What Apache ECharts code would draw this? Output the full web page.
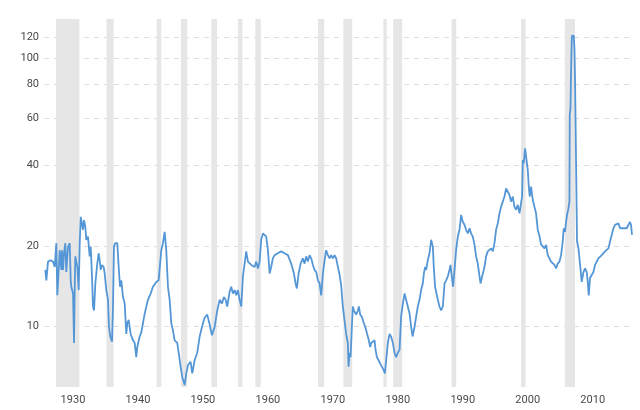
<!DOCTYPE html>
<html>
<head>
<meta charset="utf-8">
<script src="https://cdn.jsdelivr.net/npm/echarts@6/dist/echarts.min.js"></script>
<style>
	html, body { margin: 0; padding: 0; background: #fff; }
	#chart { width: 640px; height: 410px; }
</style>
</head>
<body>
<div id="chart"></div>
<script>
(function () {

	// decimal years of the sampled points
	var years = [
		1927.95, 1928.11, 1928.37, 1928.78, 1929.14, 1929.40, 1929.65, 1929.80,
		1930.17, 1930.42, 1930.52, 1930.68, 1930.83, 1931.03, 1931.18, 1931.45, 1931.71, 1931.86, 1931.95,
		1932.22, 1932.37, 1932.48, 1932.57, 1932.88, 1933.09, 1933.25, 1933.40, 1933.60, 1933.75, 1933.91,
		1934.11, 1934.26, 1934.52, 1934.78, 1934.94, 1935.14, 1935.29, 1935.45, 1935.65, 1935.95,
		1936.17, 1936.32, 1936.48, 1936.68, 1936.94, 1937.09, 1937.34, 1937.60, 1937.75, 1937.95,
		1938.22, 1938.37, 1938.52, 1938.72, 1939.03, 1939.25, 1939.45, 1939.65, 1939.91,
		1940.17, 1940.42, 1940.57, 1940.78, 1941.09, 1941.45, 1941.71, 1941.95,
		1942.11, 1942.48, 1942.72, 1943.25, 1943.75, 1944.17, 1944.52, 1945.03, 1945.40, 1945.80,
		1946.06, 1946.32, 1946.57, 1946.83, 1947.09, 1947.34, 1947.60, 1947.86,
		1948.26, 1948.48, 1948.78, 1949.03, 1949.40, 1949.65, 1949.91,
		1950.32, 1950.57, 1950.94, 1951.34, 1951.71, 1951.95, 1952.22, 1952.48, 1952.88,
		1953.25, 1953.60, 1954.02, 1954.42, 1954.78, 1955.14, 1955.45, 1955.71, 1955.95,
		1956.32, 1956.57, 1956.83, 1957.09, 1957.34, 1957.60, 1957.86, 1958.11, 1958.37, 1958.63, 1958.88,
		1959.14, 1959.40, 1959.65, 1959.91, 1960.17, 1960.42, 1960.68, 1960.94,
		1961.18, 1961.45, 1961.71, 1961.95, 1962.22, 1962.48, 1962.72, 1962.98, 1963.25, 1963.75,
		1964.26, 1964.78, 1965.29, 1965.80, 1966.22, 1966.48, 1966.68, 1966.94, 1967.25, 1967.60, 1967.86,
		1968.11, 1968.37, 1968.63, 1968.88, 1969.14, 1969.40, 1969.65, 1969.91,
		1970.17, 1970.42, 1970.68, 1970.94, 1971.18, 1971.45, 1971.71, 1971.95,
		1972.22, 1972.48, 1972.72, 1972.99, 1973.25, 1973.49, 1973.75,
		1974.26, 1974.52, 1974.63, 1974.79, 1974.94, 1975.14, 1975.29, 1975.45, 1975.80,
		1976.06, 1976.22, 1976.42, 1976.68, 1976.99, 1977.25, 1977.49, 1977.75, 1977.95,
		1978.11, 1978.37, 1978.63, 1978.79, 1978.99, 1979.25, 1979.49, 1979.75,
		1980.02, 1980.22, 1980.42, 1980.68, 1980.94, 1981.18, 1981.45, 1981.71, 1981.95,
		1982.22, 1982.48, 1982.72, 1982.99, 1983.25, 1983.49, 1983.75,
		1984.02, 1984.26, 1984.48, 1984.79, 1985.03, 1985.29, 1985.55, 1985.80,
		1986.06, 1986.22, 1986.42, 1986.57, 1986.83, 1987.09, 1987.34, 1987.60, 1987.75, 1987.95,
		1988.17, 1988.37, 1988.63, 1988.88, 1989.14, 1989.40, 1989.65, 1989.91,
		1990.17, 1990.32, 1990.52, 1990.72, 1990.94, 1991.18, 1991.45, 1991.71, 1991.95,
		1992.22, 1992.48, 1992.72, 1992.99, 1993.25, 1993.49, 1993.75,
		1994.02, 1994.26, 1994.52, 1994.79, 1994.94, 1995.19, 1995.55, 1995.80,
		1996.06, 1996.32, 1996.57, 1996.83, 1997.09, 1997.34, 1997.60, 1997.86,
		1998.11, 1998.37, 1998.63, 1998.88, 1999.14, 1999.40, 1999.65, 1999.91,
		2000.17, 2000.42, 2000.68, 2000.94, 2001.18, 2001.34, 2001.45, 2001.60, 2001.80,
		2002.06, 2002.22, 2002.37, 2002.52, 2002.72, 2002.99, 2003.25, 2003.49, 2003.75,
		2004.02, 2004.26, 2004.52, 2004.79, 2005.03, 2005.29, 2005.55, 2005.80,
		2006.06, 2006.32, 2006.57, 2006.83, 2007.09, 2007.34, 2007.60, 2007.75, 2007.95,
		2008.11, 2008.26, 2008.48, 2008.63, 2008.68, 2008.79, 2008.88, 2008.99,
		2009.09, 2009.19, 2009.29, 2009.40, 2009.49, 2009.71, 2009.80,
		2010.02, 2010.17, 2010.32, 2010.52, 2010.79, 2011.03, 2011.29, 2011.45, 2011.60, 2011.80,
		2012.06, 2012.32, 2012.57, 2012.83, 2013.09, 2013.34, 2013.60, 2013.86,
		2014.11, 2014.37, 2014.63, 2014.88, 2015.14, 2015.40, 2015.65, 2015.91,
		2016.17, 2016.42, 2016.68, 2016.94, 2017.18, 2017.45, 2017.71, 2017.95, 2018.11, 2018.26
	];

	// P/E ratio at each sampled point
	var pe = [
		16.3, 14.9, 17.5, 17.7, 17.5, 16.7, 20.5, 13.1,
		19.3, 16.3, 19.3, 16.3, 18.8, 20.5, 16.0, 19.9, 20.5, 14.9, 14.1,
		13.3, 8.7, 14.1, 18.3, 16.7, 13.7, 20.5, 25.7, 25.7, 23.0, 25.0,
		23.6, 21.1, 21.7, 18.3, 19.9, 15.4, 11.9, 11.5, 14.5, 17.2,
		18.8, 17.7, 16.3, 17.0, 16.7, 15.8, 13.7, 12.6, 10.0, 9.2,
		8.8, 11.9, 19.9, 20.5, 20.5, 16.7, 14.1, 14.9, 12.9,
		12.2, 9.4, 10.3, 10.6, 9.4, 8.9, 8.7, 7.7,
		8.4, 9.2, 9.5, 11.2, 12.6, 13.3, 14.1, 14.7, 14.9, 19.3,
		20.5, 22.6, 19.3, 14.1, 12.6, 10.3, 9.7, 8.9,
		8.7, 8.0, 7.1, 6.5, 6.06, 6.7, 7.2,
		7.4, 6.7, 7.5, 8.0, 9.2, 9.7, 10.3, 10.8, 11.1,
		10.2, 9.3, 10.0, 11.5, 12.6, 12.2, 12.9, 12.6, 11.9,
		13.5, 14.1, 13.3, 13.7, 13.1, 13.7, 12.6, 11.9, 15.4, 17.2, 19.1,
		17.5, 17.7, 17.0, 17.2, 16.7, 17.5, 16.5, 17.5,
		21.1, 22.3, 22.3, 21.7, 19.3, 15.8, 16.7, 18.0, 18.5, 18.8,
		19.1, 18.8, 18.5, 17.2, 15.8, 14.5, 13.9, 15.8, 17.2, 18.0, 17.2,
		18.3, 17.5, 18.5, 18.0, 17.0, 16.3, 16.0, 14.9,
		14.5, 13.1, 15.8, 17.7, 19.3, 18.5, 18.0, 18.5,
		18.0, 18.5, 18.0, 17.7, 15.6, 14.3, 11.9,
		9.4, 8.7, 7.1, 8.0, 7.7, 10.0, 11.9, 11.5, 11.1,
		11.5, 11.9, 11.1, 10.9, 10.3, 9.9, 9.4, 8.9, 8.4,
		8.7, 8.8, 8.9, 8.2, 7.7, 7.5, 7.3, 7.4,
		6.9, 6.7, 7.5, 8.7, 9.4, 9.2, 8.7, 8.0, 7.7,
		8.0, 8.2, 10.9, 12.2, 13.3, 12.6, 11.9,
		11.2, 10.0, 9.2, 10.0, 10.9, 11.9, 12.6, 13.7,
		14.5, 15.8, 16.7, 16.3, 17.7, 18.8, 21.1, 19.9, 16.7, 14.1,
		13.3, 12.6, 11.9, 11.5, 11.9, 14.5, 14.9, 15.4,
		16.3, 17.0, 15.4, 14.1, 16.3, 19.3, 21.7, 23.0, 26.1,
		24.6, 24.0, 23.0, 22.3, 23.3, 22.3, 21.7,
		20.2, 18.3, 17.2, 15.4, 14.5, 15.4, 16.7, 18.3,
		19.1, 18.8, 19.6, 19.1, 20.5, 23.0, 24.3, 26.5,
		28.0, 29.3, 30.6, 32.8, 33.3, 31.0, 29.3, 30.6,
		28.0, 27.3, 28.5, 26.5, 26.1, 30.6, 41.9, 40.7, 46.3,
		45.6, 38.4, 33.3, 30.6, 33.3, 29.7, 28.0, 26.5, 23.0,
		21.8, 20.3, 20.5, 19.6, 20.2, 18.5, 18.0, 17.5,
		17.5, 17.0, 16.5, 17.2, 17.5, 18.5, 20.8, 23.3, 22.6,
		24.6, 26.1, 27.7, 29.3, 61.7, 65.3, 89.4, 119.2,
		122.6, 119.2, 122.6, 109.3, 84.5, 84.5, 20.8,
		19.6, 18.0, 16.5, 14.7, 16.0, 16.5, 16.0, 14.7, 13.1, 15.2,
		15.6, 16.0, 17.0, 17.5, 18.0, 17.7, 18.5, 18.5,
		19.1, 19.1, 19.6, 20.8, 22.0, 23.3, 24.0, 24.0,
		24.3, 23.3, 23.0, 23.3, 23.6, 23.3, 24.0, 24.6, 24.0, 22.0
	];

	// recession periods, start / end in decimal years
	var recessionStart = [1929.60, 1937.37, 1945.10, 1948.83, 1953.50, 1957.60, 1960.28, 1969.92, 1973.83, 1980.00, 1981.50, 1990.50, 2001.17, 2007.92];
	var recessionEnd   = [1933.20, 1938.47, 1945.80, 1949.80, 1954.38, 1958.30, 1961.12, 1970.88, 1975.20, 1980.50, 1982.88, 1991.20, 2001.88, 2009.48];

	var yearTicks = [1930, 1940, 1950, 1960, 1970, 1980, 1990, 2000, 2010];
	var peTicks   = [10, 20, 40, 60, 80, 100, 120];

	var X_MIN = 1927.75, X_MAX = 2018.26;
	var Y_MIN = 5.96,    Y_MAX = 140.6;

	var n = Math.min(years.length, pe.length);
	var lineData = [];
	for (var i = 0; i < n; i++) lineData.push([years[i], pe[i]]);

	var bands = [];
	for (var j = 0; j < recessionStart.length; j++) {
		bands.push([{ xAxis: recessionStart[j] }, { xAxis: recessionEnd[j] }]);
	}

	var labelStyle = { color: '#4a4a4a', fontSize: 11, fontFamily: 'Roboto, sans-serif' };

	var chart = echarts.init(document.getElementById('chart'), null, { renderer: 'canvas' });
	chart.setOption({
		animation: false,
		backgroundColor: '#fff',
		grid: { left: 44, right: 8, top: 19, bottom: 23, containLabel: false },
		xAxis: {
			type: 'value', min: X_MIN, max: X_MAX,
			axisLine: { show: false },
			axisTick: { show: false, customValues: yearTicks },
			splitLine: { show: false },
			axisLabel: Object.assign({
				customValues: yearTicks, align: 'left', padding: [0, 0, 0, 2], margin: 8,
				formatter: function (v) { return String(v); }
			}, labelStyle)
		},
		yAxis: {
			type: 'log', logBase: 10, min: Y_MIN, max: Y_MAX,
			axisLine: { show: false },
			axisTick: { show: false, customValues: peTicks },
			axisLabel: Object.assign({ customValues: peTicks, margin: 5 }, labelStyle),
			splitLine: { show: true, lineStyle: { color: '#dedede', type: [5, 5], width: 1 } }
		},
		series: [{
			type: 'line',
			data: lineData,
			showSymbol: false,
			symbol: 'none',
			lineStyle: { color: '#5597d6', width: 1.8 },
			itemStyle: { color: '#5597d6' },
			markArea: {
				silent: true,
				itemStyle: { color: '#e6e6e6' },
				data: bands
			}
		}]
	});

})();
</script>
</body>
</html>
